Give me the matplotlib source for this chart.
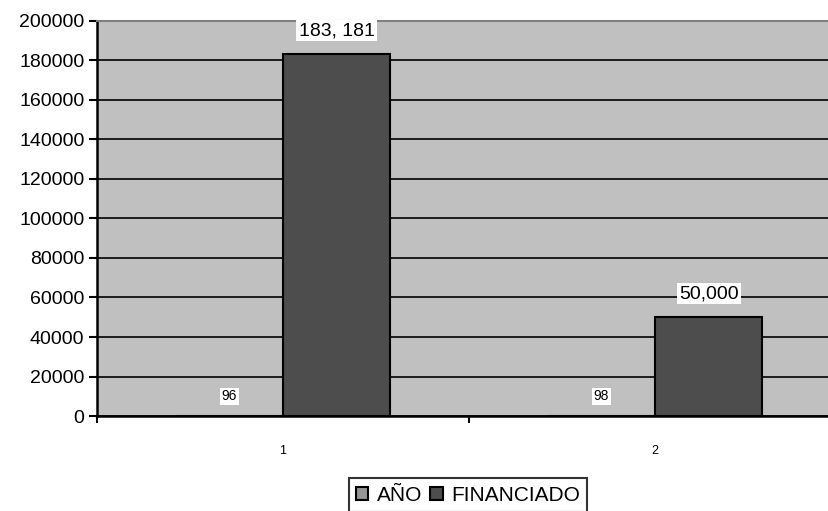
import matplotlib
matplotlib.use("Agg")
import matplotlib.pyplot as plt
import numpy as np

plt.rcParams['font.family'] = ['Liberation Sans', 'DejaVu Sans']

categories = ["1", "2"]
anio = [96, 98]
financiado = [183181, 50000]
anio_labels = ["96", "98"]
fin_labels = ["183, 181", "50,000"]
yticks = [0, 20000, 40000, 60000, 80000, 100000, 120000, 140000, 160000, 180000, 200000]

W, H = 829, 511
fig = plt.figure(figsize=(W / 100, H / 100), dpi=100)
ax = fig.add_axes([97 / W, (H - 416) / H, (841 - 97) / W, (416 - 21) / H])
ax.set_facecolor("#c0c0c0")

x = np.arange(1, len(categories) + 1)
bw = 0.288
b1 = ax.bar(x - bw / 2, anio, bw, color="#969696", edgecolor="black", linewidth=1.5, label="AÑO", zorder=3)
b2 = ax.bar(x + bw / 2, financiado, bw, color="#4d4d4d", edgecolor="black", linewidth=1.5, label="FINANCIADO", zorder=3)

for rect, lab in zip(b1, anio_labels):
    ax.annotate(lab, (rect.get_x() + rect.get_width() / 2, rect.get_height()),
                xytext=(0, 14), textcoords="offset points", ha="center", va="center",
                fontsize=10, bbox=dict(facecolor="white", edgecolor="none", pad=1), zorder=5)
for rect, lab in zip(b2, fin_labels):
    ax.annotate(lab, (rect.get_x() + rect.get_width() / 2, rect.get_height()),
                xytext=(0, 17), textcoords="offset points", ha="center", va="center",
                fontsize=14, bbox=dict(facecolor="white", edgecolor="none", pad=1.5), zorder=5)

ax.set_xlim(0.5, len(categories) + 0.5)
ax.set_ylim(0, 200000)
ax.set_yticks(yticks)
ax.set_yticklabels([str(v) for v in yticks], fontsize=14)
ax.yaxis.grid(True, color="black", linewidth=1.2, zorder=1)
ax.set_axisbelow(True)

ax.set_xticks(x)
ax.set_xticklabels(categories, fontsize=9)
ax.tick_params(axis="x", which="major", length=0, pad=21)
ax.set_xticks(np.arange(0.5, len(categories) + 1, 1), minor=True)
ax.tick_params(axis="x", which="minor", length=5, width=1.5, direction="out")
ax.tick_params(axis="y", length=6, width=1.5, direction="out", pad=3)

ax.spines["left"].set_linewidth(1.8)
ax.spines["bottom"].set_linewidth(1.8)
ax.spines["top"].set_color("#808080")
ax.spines["top"].set_linewidth(1.5)
ax.spines["right"].set_visible(False)

leg = fig.legend(loc="center", bbox_to_anchor=(468 / W, (H - 495) / H), ncol=2,
                 fontsize=15, frameon=True, fancybox=False, edgecolor="black",
                 handlelength=0.6, handleheight=0.6, handletextpad=0.4, columnspacing=0.4,
                 borderpad=0.35)
leg.get_frame().set_linewidth(1.5)

fig.savefig("out.png", dpi=100)
